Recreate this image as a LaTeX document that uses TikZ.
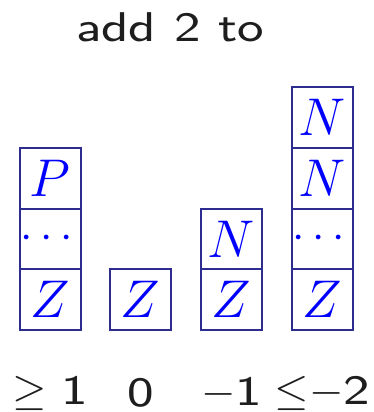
\documentclass[tikz,border=0pt]{standalone}
\usepackage{amsmath,amssymb}
\usepackage{fontspec}
\usepackage{graphicx}
\usepackage{xcolor}
\usepackage{tikz}
\usetikzlibrary{positioning}
\setsansfont{lmsans8-regular}[Extension=.otf]
\renewcommand{\familydefault}{\sfdefault}
\definecolor{boxline}{RGB}{45,45,145}
\definecolor{inkgray}{RGB}{30,30,30}
\newcommand{\lblfont}{\fontsize{19.5}{23}\selectfont}
\newcommand{\wide}[1]{\scalebox{1.2}[1]{#1}}
\newcommand{\dotsrow}{\makebox[0pt]{\fontsize{21.6}{25}\selectfont$\cdots$}}

\begin{document}
\begin{tikzpicture}[font=\lblfont, text=inkgray,
  cell/.style={draw=boxline, line width=0.9pt, minimum width=1cm, minimum height=1cm,
    inner sep=0pt, outer sep=0pt, text=blue, font=\fontsize{24}{29}\selectfont},
  lbl/.style={inner sep=0pt}]
  \useasboundingbox (0,0) rectangle (6.161,6.787);
  \node[anchor=base] (title) at (2.80,6.096) {\wide{add 2 to}};
  % stack for >= 1
  \node[cell] (z1) at (0.829,1.851) {$Z$};
  \node[cell, above=0pt of z1] (d1) {\dotsrow};
  \node[cell, above=0pt of d1] (p1) {$P$};
  % stack for 0
  \node[cell] (z2) at (2.315,1.851) {$Z$};
  % stack for -1
  \node[cell] (z3) at (3.814,1.851) {$Z$};
  \node[cell, above=0pt of z3] (n3) {$N$};
  % stack for <= -2
  \node[cell] (z4) at (5.31,1.851) {$Z$};
  \node[cell, above=0pt of z4] (d4) {\dotsrow};
  \node[cell, above=0pt of d4] (n4) {$N$};
  \node[cell, above=0pt of n4] (m4) {$N$};
  % labels
  \node[lbl] (l1) at (z1 |- 0,0.31) {$\geq$ \wide{1}};
  \node[lbl] (l2) at (z2 |- 0,0.31) {\wide{0}};
  \node[lbl] (l3) at (z3 |- 0,0.31) {$-$\wide{1}};
  \node[lbl] (l4) at (z4 |- 0,0.31) {$\leq$$-$\wide{2}};
\end{tikzpicture}
\end{document}
